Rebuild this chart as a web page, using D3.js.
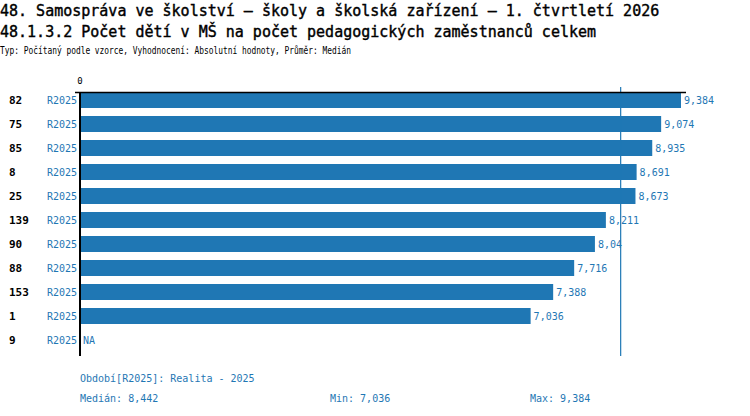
<!DOCTYPE html>
<html>
<head>
<meta charset="utf-8">
<script src="https://cdn.jsdelivr.net/npm/d3@7"></script>
<style>
  body { margin: 0; background: white; }
  svg { display: block; font-family: 'DejaVu Sans Mono', monospace; }
</style>
</head>
<body>
<svg id="chart" width="750" height="416"></svg>
<script>
/* DATA */

const titleLines = [
  '48. Samospráva ve školství – školy a školská zařízení – 1. čtvrtletí 2026',
  '48.1.3.2 Počet dětí v MŠ na počet pedagogických zaměstnanců celkem'
]
const subtitle = 'Typ: Počítaný podle vzorce, Vyhodnocení: Absolutní hodnoty, Průměr: Medián'

const categories = ['82', '75', '85', '8', '25', '139', '90', '88', '153', '1', '9']
const values = [9.384, 9.074, 8.935, 8.691, 8.673, 8.211, 8.04, 7.716, 7.388, 7.036, null]
const period = 'R2025'
const periodNote = 'Období[R2025]: Realita - 2025'
const xTicks = [0]

/* COLOURS */

const blue = '#1f77b4'

/* HELPERS */

const cz = d3.formatLocale({ decimal: ',', thousands: ' ', grouping: [3], currency: ['', ''] })
const fmt = cz.format('.4~r')

const svg = d3.select('#chart')

/* TITLES */

// Slight outline thickens the regular weight a little (bold is too heavy)
svg.append('text')
    .attr('x', 0)
    .attr('y', 16)
    .attr('font-size', 15)
    .attr('stroke', 'black')
    .attr('stroke-width', 0.4)
    .text(titleLines[0])

svg.append('text')
    .attr('x', 0)
    .attr('y', 37)
    .attr('font-size', 15)
    .attr('stroke', 'black')
    .attr('stroke-width', 0.4)
    .text(titleLines[1])

svg.append('text')
    .attr('x', 0)
    .attr('y', 54)
    .attr('font-size', 10)
    .attr('textLength', 351)
    .attr('lengthAdjust', 'spacingAndGlyphs')
    .text(subtitle)

/* SCALES */

const x = d3.scaleLinear()
    .domain([0, d3.max(values)])
    .range([80, 681])

const y = d3.scaleBand()
    .domain(categories)
    .range([92, 356])
    .paddingInner(1 / 3)
    .paddingOuter(1 / 6)
    .align(0)

const g = svg.append('g')

/* BARS */

const rows = categories.map((c, i) => ({ cat: c, value: values[i] }))

g.selectAll('rect.bar')
    .data(rows.filter(d => d.value != null))
    .enter().append('rect')
    .attr('class', 'bar')
    .attr('x', x(0))
    .attr('y', d => y(d.cat))
    .attr('width', d => x(d.value) - x(0))
    .attr('height', y.bandwidth())
    .attr('fill', blue)

// Value labels
g.selectAll('text.val')
    .data(rows)
    .enter().append('text')
    .attr('class', 'val')
    .attr('x', d => (d.value == null ? x(0) : x(d.value)) + 3)
    .attr('y', d => y(d.cat) + y.bandwidth() / 2 + 4)
    .attr('font-size', 10)
    .attr('fill', blue)
    .text(d => d.value == null ? 'NA' : fmt(d.value))

// Category labels
g.selectAll('text.cat')
    .data(rows)
    .enter().append('text')
    .attr('class', 'cat')
    .attr('x', 9)
    .attr('y', d => y(d.cat) + y.bandwidth() / 2 + 4)
    .attr('font-size', 11)
    .attr('font-weight', 'bold')
    .text(d => d.cat)

// Period labels
g.selectAll('text.per')
    .data(rows)
    .enter().append('text')
    .attr('class', 'per')
    .attr('x', 77)
    .attr('y', d => y(d.cat) + y.bandwidth() / 2 + 4)
    .attr('text-anchor', 'end')
    .attr('font-size', 10)
    .attr('fill', blue)
    .text(period)

/* AXES */

const yBottom = y.range()[1]

// Median line
const med = d3.median(values)
g.append('line')
    .attr('x1', x(med))
    .attr('x2', x(med))
    .attr('y1', 87)
    .attr('y2', yBottom)
    .attr('stroke', blue)
    .attr('stroke-width', 1.2)

// Top line
g.append('line')
    .attr('x1', 75)
    .attr('x2', 686)
    .attr('y1', 92.5)
    .attr('y2', 92.5)
    .attr('stroke', 'black')
    .attr('stroke-width', 1.5)

// Zero line
g.append('line')
    .attr('x1', x(0))
    .attr('x2', x(0))
    .attr('y1', 92)
    .attr('y2', yBottom)
    .attr('stroke', 'black')
    .attr('stroke-width', 2)

g.selectAll('text.tick')
    .data(xTicks)
    .enter().append('text')
    .attr('class', 'tick')
    .attr('x', d => x(d))
    .attr('y', 84)
    .attr('text-anchor', 'middle')
    .attr('font-size', 9)
    .text(d => d)

/* FOOTER */

const foot = svg.append('g')
    .attr('font-size', 10)
    .attr('fill', blue)

foot.append('text')
    .attr('x', 80)
    .attr('y', 382)
    .text(periodNote)

foot.append('text')
    .attr('x', 80)
    .attr('y', 402)
    .text('Medián: ' + fmt(med))

foot.append('text')
    .attr('x', 330)
    .attr('y', 402)
    .text('Min: ' + fmt(d3.min(values)))

foot.append('text')
    .attr('x', 530)
    .attr('y', 402)
    .text('Max: ' + fmt(d3.max(values)))
</script>
</body>
</html>
